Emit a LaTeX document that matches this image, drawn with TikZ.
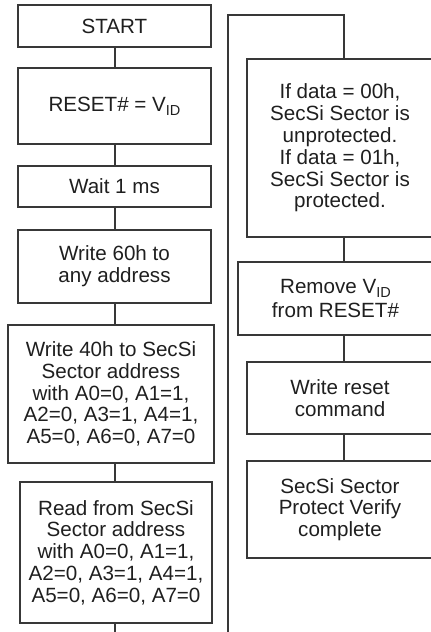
\documentclass[tikz,border=0pt]{standalone}
\usepackage{fontspec}
\setmainfont{Liberation Sans}
\newcommand{\subid}[1]{\raisebox{-3.8pt}{\fontsize{14.5}{14.5}\selectfont #1}}
\begin{document}
\begin{tikzpicture}[x=1pt,y=-1pt,
  box/.style={draw=black!78,line width=1.2pt,rectangle,inner sep=0pt,align=center,
    text=black!88,font=\fontsize{20.6}{21.8}\selectfont},
  conn/.style={draw=black!78,line width=1.2pt}]
\useasboundingbox (0,0) rectangle (431,632);
\clip (0,0) rectangle (431,632);
% left column
\node[box,minimum width=193pt,minimum height=42pt] (start) at (114.5,26) {START};
\node[box,minimum width=193pt,minimum height=76pt] (reset) at (114.5,106) {RESET\# = V\subid{ID}};
\node[box,minimum width=193pt,minimum height=41pt] (wait) at (114.5,186.5) {Wait 1 ms};
\node[box,minimum width=193pt,minimum height=73pt] (w60) at (114.5,266.5) {Write 60h to\\any address};
\node[box,minimum width=206pt,minimum height=138pt] (w40) at (111,394) {Write 40h to SecSi\\Sector address\\with A0=0, A1=1,\\A2=0, A3=1, A4=1,\\A5=0, A6=0, A7=0};
\node[box,minimum width=192pt,minimum height=141pt] (read) at (116,552.5) {Read from SecSi\\Sector address\\with A0=0, A1=1,\\A2=0, A3=1, A4=1,\\A5=0, A6=0, A7=0};
% right column
\node[box,minimum width=186pt,minimum height=178pt] (ifdata) at (340,148) {If data = 00h,\\SecSi Sector is\\unprotected.\\If data = 01h,\\SecSi Sector is\\protected.};
\node[box,minimum width=195pt,minimum height=73pt] (remove) at (335.5,298.5) {Remove V\subid{ID}\\[2pt]from RESET\#};
\node[box,minimum width=186pt,minimum height=72pt] (wreset) at (340,398) {Write reset\\command};
\node[box,minimum width=186pt,minimum height=97pt] (done) at (340,509.5) {SecSi Sector\\Protect Verify\\complete};
% coordinates
\coordinate (colL) at (115,0);
\coordinate (endL) at (115,632);
\coordinate (endR) at (228,632);
\coordinate (topR) at (228,15);
\coordinate (colR) at (344,15);
% left connectors
\draw[conn] (colL |- start.south) -- (colL |- reset.north);
\draw[conn] (colL |- reset.south) -- (colL |- wait.north);
\draw[conn] (colL |- wait.south) -- (colL |- w60.north);
\draw[conn] (colL |- w60.south) -- (colL |- w40.north);
\draw[conn] (colL |- w40.south) -- (colL |- read.north);
\draw[conn] (colL |- read.south) -- (endL);
% right connectors
\draw[conn] (endR) -- (topR) -- (colR) -- (colR |- ifdata.north);
\draw[conn] (colR |- ifdata.south) -- (colR |- remove.north);
\draw[conn] (colR |- remove.south) -- (colR |- wreset.north);
\draw[conn] (colR |- wreset.south) -- (colR |- done.north);
\end{tikzpicture}
\end{document}
